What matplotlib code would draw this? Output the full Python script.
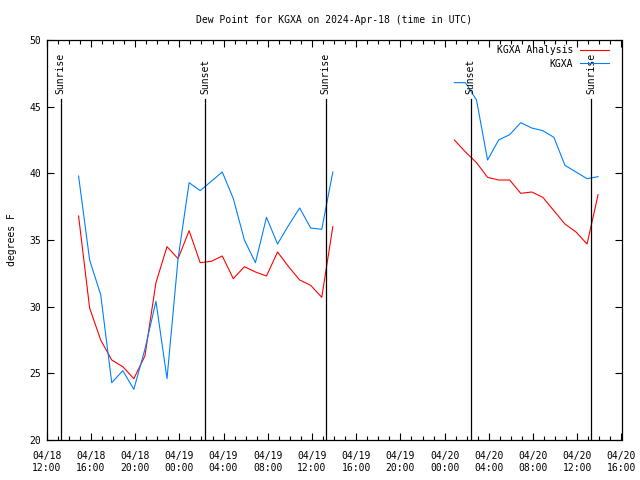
import numpy as np, pandas as pd
import matplotlib; matplotlib.use("Agg")
import matplotlib.pyplot as plt
import matplotlib.dates as mdates

# hourly obs, two chunks with a gap in between
t1 = pd.date_range("2024-04-18 14:53", periods=24, freq="h")
t2 = pd.date_range("2024-04-20 00:53", periods=14, freq="h")
analysis1 = [36.8, 29.9, 27.5, 26.0, 25.5, 24.6, 26.3, 31.8, 34.5, 33.6, 35.7, 33.3,
             33.4, 33.8, 32.1, 33.0, 32.6, 32.3, 34.1, 33.0, 32.0, 31.6, 30.7, 36.0]
obs1 = [39.8, 33.5, 30.9, 24.3, 25.2, 23.8, 26.8, 30.4, 24.6, 33.6, 39.3, 38.7,
        39.4, 40.1, 38.1, 35.0, 33.3, 36.7, 34.7, 36.1, 37.4, 35.9, 35.8, 40.1]
analysis2 = [42.5, 41.6, 40.8, 39.7, 39.5, 39.5, 38.5, 38.6, 38.2, 37.2, 36.2, 35.6, 34.7, 38.4]
obs2 = [46.8, 46.8, 45.5, 41.0, 42.5, 42.9, 43.8, 43.4, 43.2, 42.7, 40.6, 40.1, 39.6, 39.75]
sun_times = pd.to_datetime(["2024-04-18 13:16", "2024-04-19 02:20", "2024-04-19 13:15",
                            "2024-04-20 02:21", "2024-04-20 13:15"])
sun_labels = ["Sunrise", "Sunset", "Sunrise", "Sunset", "Sunrise"]

plt.rcParams["font.family"] = "DejaVu Sans Mono"
plt.rcParams["font.size"] = 7
RED, BLUE = "#ff0000", "#0080ff"

fig = plt.figure(figsize=(6.4, 4.8), dpi=100)
ax = fig.add_axes([46.7/640, 40/480, (621.5-46.7)/640, 400/480])

ax.plot(t1, analysis1, color=RED, lw=0.8, label="KGXA Analysis")
ax.plot(t2, analysis2, color=RED, lw=0.8)
ax.plot(t1, obs1, color=BLUE, lw=0.8, label="KGXA")
ax.plot(t2, obs2, color=BLUE, lw=0.8)

for t, lab in zip(sun_times, sun_labels):
    ax.axvline(t, ymin=0, ymax=0.8525, color="black", lw=0.9)
    ax.text(t, 0.865, lab, transform=ax.get_xaxis_transform(), rotation=90,
            ha="center", va="bottom", fontsize=7)

ax.set_xlim(pd.Timestamp("2024-04-18 12:00"), pd.Timestamp("2024-04-20 16:00"))
ax.set_ylim(20, 50)
ax.set_yticks(np.arange(20, 51, 5))
ax.xaxis.set_major_locator(mdates.HourLocator(byhour=range(0, 24, 4)))
ax.xaxis.set_minor_locator(mdates.HourLocator())
ax.xaxis.set_major_formatter(mdates.DateFormatter("%m/%d\n%H:%M"))
ax.tick_params(direction="in", which="both", top=True, right=True, width=0.8)
ax.tick_params(which="major", length=5, pad=8)
ax.tick_params(which="minor", length=3)
ax.tick_params(axis="y", pad=4)
for s in ax.spines.values():
    s.set_linewidth(0.9)

ax.set_ylabel("degrees F", labelpad=9)
ax.set_title("Dew Point for KGXA on 2024-Apr-18 (time in UTC)", fontsize=7, pad=12)
ax.legend(loc="upper right", bbox_to_anchor=(0.988, 1.0), frameon=False,
          markerfirst=False, handlelength=3.0, borderaxespad=0.15,
          labelspacing=0.35, handletextpad=0.7, fontsize=7)

fig.savefig("out.png", dpi=100)
